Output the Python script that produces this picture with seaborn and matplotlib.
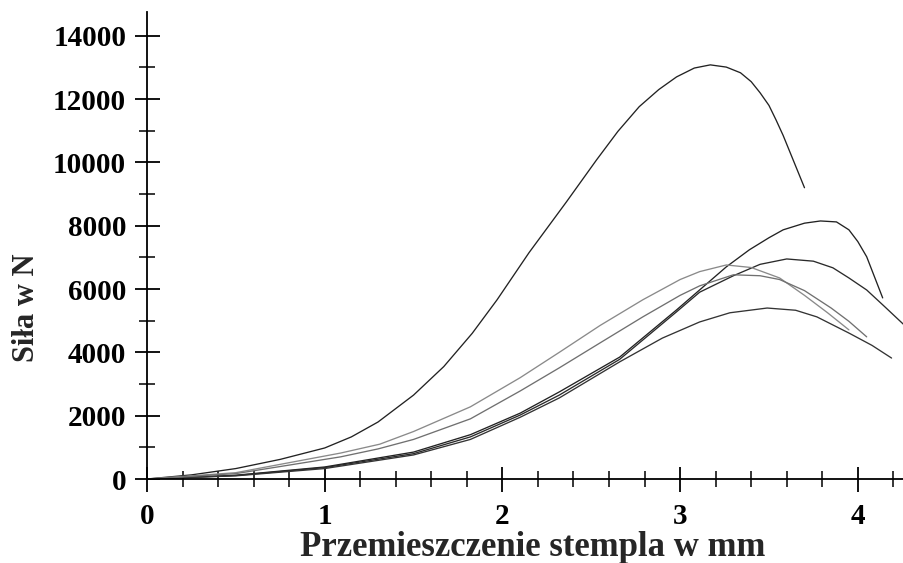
"""
Siła na stemplu w funkcji przemieszczenia - odtworzenie wykresu.
"""

import matplotlib
matplotlib.use("Agg")
import matplotlib.pyplot as plt
from matplotlib.ticker import MultipleLocator
import pandas as pd
import seaborn as sns

# Krzywe (x w mm, siła w N)
x_a = [0, 0.25, 0.5, 0.75, 1.0, 1.15, 1.3, 1.5, 1.67, 1.83, 1.97, 2.15, 2.36,
       2.53, 2.65, 2.77, 2.88, 2.98, 3.08, 3.17, 3.26, 3.34, 3.40, 3.45, 3.50,
       3.54, 3.58, 3.62, 3.66, 3.70]
y_a = [0, 130, 330, 620, 980, 1330, 1800, 2650, 3550, 4600, 5660, 7150, 8750,
       10080, 10980, 11760, 12300, 12700, 12980, 13080, 13010, 12830, 12550,
       12200, 11800, 11340, 10850, 10300, 9750, 9200]

x_b = [0, 0.5, 1.0, 1.5, 1.82, 2.1, 2.32, 2.66, 2.98, 3.26, 3.39, 3.5, 3.58,
       3.70, 3.79, 3.88, 3.95, 4.0, 4.05, 4.14]
y_b = [0, 120, 380, 850, 1400, 2080, 2750, 3850, 5340, 6700, 7240, 7620, 7870,
       8080, 8150, 8120, 7870, 7500, 7020, 5720]

x_c = [0, 0.5, 1.0, 1.5, 1.82, 2.1, 2.32, 2.66, 2.98, 3.11, 3.3, 3.45, 3.6,
       3.75, 3.86, 3.95, 4.05, 4.15, 4.26]
y_c = [0, 110, 360, 800, 1330, 2020, 2650, 3780, 5280, 5900, 6420, 6780, 6950,
       6880, 6670, 6350, 5970, 5450, 4870]

x_d = [0, 0.5, 1.0, 1.5, 1.82, 2.1, 2.32, 2.66, 2.9, 3.11, 3.28, 3.49, 3.65,
       3.77, 3.95, 4.08, 4.19]
y_d = [0, 100, 330, 760, 1250, 1950, 2560, 3700, 4450, 4960, 5250, 5400, 5330,
       5120, 4610, 4220, 3820]

x_e = [0, 0.5, 1.09, 1.31, 1.5, 1.82, 2.1, 2.32, 2.55, 2.79, 3.0, 3.11, 3.26,
       3.4, 3.56, 3.7, 3.83, 3.95]
y_e = [0, 200, 820, 1100, 1500, 2280, 3200, 4000, 4850, 5660, 6300, 6550, 6760,
       6680, 6350, 5800, 5250, 4710]

x_f = [0, 0.5, 1.09, 1.3, 1.5, 1.82, 2.1, 2.32, 2.55, 2.79, 3.0, 3.11, 3.3,
       3.45, 3.56, 3.7, 3.85, 3.95, 4.05]
y_f = [0, 170, 700, 950, 1250, 1900, 2780, 3510, 4300, 5120, 5800, 6100, 6450,
       6420, 6300, 5950, 5400, 4980, 4490]

series = {"A": (x_a, y_a), "B": (x_b, y_b), "C": (x_c, y_c),
          "D": (x_d, y_d), "E": (x_e, y_e), "F": (x_f, y_f)}
colors = {"A": "#222222", "B": "#222222", "C": "#2a2a2a", "D": "#333333",
          "E": "#8a8a8a", "F": "#707070"}

df = pd.concat(
    [pd.DataFrame({"x": xs, "y": ys, "seria": name}) for name, (xs, ys) in series.items()],
    ignore_index=True,
)

sns.set_style("ticks")
plt.rcParams["font.family"] = ["Liberation Serif", "DejaVu Serif"]

fig = plt.figure(figsize=(9.04, 5.63), dpi=100)
ax = fig.add_axes([147 / 904, 84 / 563, 757 / 904, 467 / 563])

sns.lineplot(data=df, x="x", y="y", hue="seria", palette=colors, units="seria",
             estimator=None, sort=False, legend=False, linewidth=0.95, ax=ax)

ax.set_xlim(0, 4.26)
ax.set_ylim(0, 14750)
ax.xaxis.set_major_locator(MultipleLocator(1))
ax.xaxis.set_minor_locator(MultipleLocator(0.2))
ax.yaxis.set_major_locator(MultipleLocator(2000))
ax.yaxis.set_minor_locator(MultipleLocator(1000))
ax.tick_params(which="major", direction="inout", length=18, width=1.3, colors="black")
ax.tick_params(which="minor", direction="inout", length=12, width=1.1, colors="black")
ax.tick_params(axis="x", which="major", pad=8, labelsize=21)
ax.tick_params(axis="y", which="major", pad=6, labelsize=21)
for lab in ax.get_xticklabels() + ax.get_yticklabels():
    lab.set_fontweight("bold")

sns.despine(ax=ax)
for side in ("left", "bottom"):
    ax.spines[side].set_linewidth(1.3)
    ax.spines[side].set_color("black")

ax.set_xlabel("Przemieszczenie stempla w mm", fontsize=25, fontweight="bold")
ax.set_ylabel("Siła w N", fontsize=22, fontweight="bold")
ax.xaxis.set_label_coords(0.51, -0.112)
ax.yaxis.set_label_coords(-0.14, 0.366)

fig.savefig("out.png", dpi=100)
